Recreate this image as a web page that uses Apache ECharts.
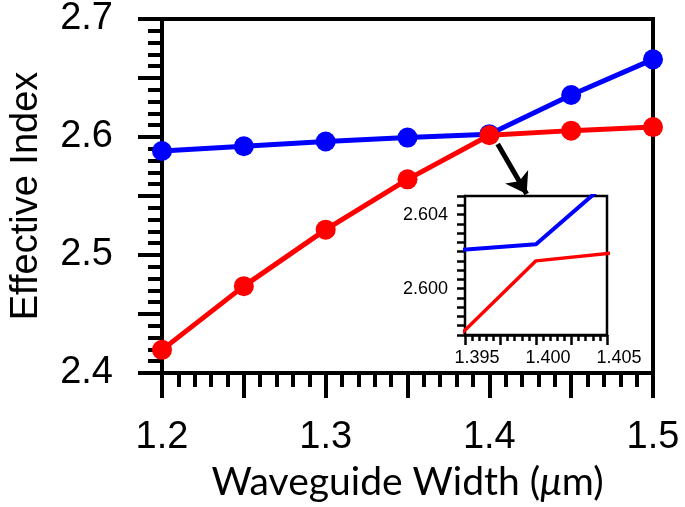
<!DOCTYPE html>
<html>
<head>
<meta charset="utf-8">
<script src="https://cdn.jsdelivr.net/npm/echarts@6/dist/echarts.min.js"></script>
<style>
html,body{margin:0;padding:0;background:#fff;}
#c{width:685px;height:507px;}
</style>
</head>
<body>
<div id="c"></div>
<script>
// Data
var widths = [1.2, 1.25, 1.3, 1.35, 1.4, 1.45, 1.5];
var blueIndex = [2.5881, 2.5922, 2.5962, 2.5995, 2.6024, 2.6356, 2.6658];
var redIndex  = [2.4196, 2.4736, 2.5215, 2.5641, 2.6015, 2.6054, 2.6084];
var mainXLabels = [1.2, 1.3, 1.4, 1.5];
var mainYLabels = [2.4, 2.5, 2.6, 2.7];
var insetXLabels = [1.395, 1.400, 1.405];
var insetYLabels = [2.600, 2.604];
var arrowFrom = [1.4051, 2.5940];
var arrowTo = [1.4228, 2.5516];

function pairs(xs, ys){ return xs.map(function(x,i){ return [x, ys[i]]; }); }
function pick(list, digits){
  return function(v){
    for (var i=0;i<list.length;i++){ if (Math.abs(v-list[i]) < 1e-7) return list[i].toFixed(digits); }
    return '';
  };
}
var BLUE = '#0000ff', RED = '#ff0000';
var tickFont = 'Liberation Sans, Arial, sans-serif';

var chart = echarts.init(document.getElementById('c'), null, {renderer:'canvas'});
chart.setOption({
  animation: false,
  backgroundColor: '#fff',
  grid: [
    {left:161, top:10, right:32, bottom:129, show:true, borderColor:'#000', borderWidth:4, backgroundColor:'transparent'},
    {left:465, top:196, width:142, height:139, show:true, borderColor:'#000', borderWidth:2.5, backgroundColor:'#fff', z:10}
  ],
  xAxis: [
    {gridIndex:0, type:'value', min:1.2, max:1.5, interval:0.05,
     name:'Waveguide Width ({i|\u03bc}m)', nameLocation:'middle', nameGap:90,
     nameTextStyle:{fontFamily:'Lato, sans-serif', fontSize:39, color:'#000',
       rich:{i:{fontFamily:'Lato, sans-serif', fontSize:39, fontStyle:'italic', color:'#000'}}},
     axisLine:{show:true, onZero:false, lineStyle:{color:'#000', width:4}},
     axisTick:{show:true, inside:false, length:25, lineStyle:{color:'#000', width:4}},
     minorTick:{show:true, splitNumber:5, length:14, lineStyle:{color:'#000', width:4}},
     splitLine:{show:false}, minorSplitLine:{show:false},
     axisLabel:{formatter: pick(mainXLabels,1), fontFamily:tickFont, fontSize:38, color:'#000', margin:46, showMinLabel:true, showMaxLabel:true}
    },
    {gridIndex:1, type:'value', min:1.395, max:1.405, interval:0.0025,
     axisLine:{show:true, onZero:false, lineStyle:{color:'#000', width:2.5}},
     axisTick:{show:true, length:10, lineStyle:{color:'#000', width:2.5}},
     minorTick:{show:true, splitNumber:5, length:6, lineStyle:{color:'#000', width:2.5}},
     splitLine:{show:false}, minorSplitLine:{show:false},
     axisLabel:{formatter: pick(insetXLabels,3), fontFamily:tickFont, fontSize:18, color:'#000', margin:14, padding:[0,0,0,24], showMinLabel:true, showMaxLabel:true}
    }
  ],
  yAxis: [
    {gridIndex:0, type:'value', min:2.4, max:2.7, interval:0.05,
     name:'Effective Index', nameLocation:'middle', nameGap:116, nameRotate:90,
     nameTextStyle:{fontFamily:tickFont, fontSize:38, color:'#000'},
     axisLine:{show:true, onZero:false, lineStyle:{color:'#000', width:4}},
     axisTick:{show:true, length:24, lineStyle:{color:'#000', width:4}},
     minorTick:{show:true, splitNumber:5, length:14, lineStyle:{color:'#000', width:4}},
     splitLine:{show:false}, minorSplitLine:{show:false},
     axisLabel:{formatter: pick(mainYLabels,1), fontFamily:tickFont, fontSize:38, color:'#000', margin:49, showMinLabel:true, showMaxLabel:true}
    },
    {gridIndex:1, type:'value', min:2.5975, max:2.605, interval:0.0005,
     axisLine:{show:true, onZero:false, lineStyle:{color:'#000', width:2.5}},
     axisTick:{show:true, length:8, lineStyle:{color:'#000', width:2.5}},
     splitLine:{show:false},
     axisLabel:{formatter: pick(insetYLabels,3), fontFamily:tickFont, fontSize:18, color:'#000', margin:17, showMinLabel:true, showMaxLabel:true}
    }
  ],
  series: [
    {type:'line', xAxisIndex:0, yAxisIndex:0, data: pairs(widths, blueIndex),
     symbol:'circle', symbolSize:20, lineStyle:{color:BLUE, width:5}, itemStyle:{color:BLUE}, z:3},
    {type:'line', xAxisIndex:0, yAxisIndex:0, data: pairs(widths, redIndex),
     symbol:'circle', symbolSize:20, lineStyle:{color:RED, width:5}, itemStyle:{color:RED}, z:4,
     markLine:{silent:true, symbol:['none','arrow'], symbolSize:20, label:{show:false}, z:20,
       lineStyle:{color:'#000', width:5, type:'solid'},
       data:[[{coord:arrowFrom},{coord:arrowTo}]]}},
    {type:'line', xAxisIndex:1, yAxisIndex:1, data: pairs(widths, blueIndex), clip:true,
     showSymbol:false, symbol:'none', lineStyle:{color:BLUE, width:4}, z:11},
    {type:'line', xAxisIndex:1, yAxisIndex:1, data: pairs(widths, redIndex), clip:true,
     showSymbol:false, symbol:'none', lineStyle:{color:RED, width:3.5}, z:11}
  ]
});
</script>
</body>
</html>
